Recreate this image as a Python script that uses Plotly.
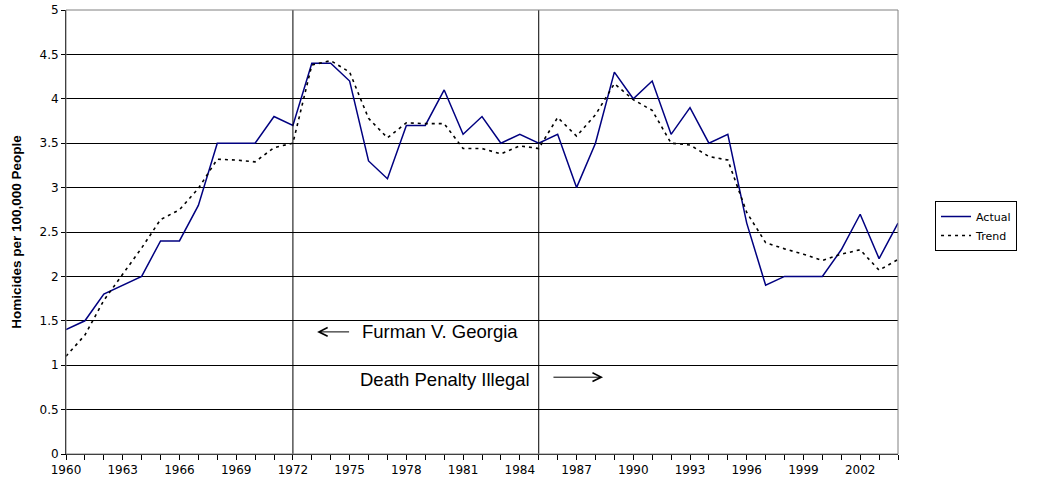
import plotly.graph_objects as go

years = list(range(1960, 2005))
actual = [1.4, 1.5, 1.8, 1.9, 2.0, 2.4, 2.4, 2.8, 3.5, 3.5,
          3.5, 3.8, 3.7, 4.4, 4.4, 4.2, 3.3, 3.1, 3.7, 3.7,
          4.1, 3.6, 3.8, 3.5, 3.6, 3.5, 3.6, 3.0, 3.5, 4.3,
          4.0, 4.2, 3.6, 3.9, 3.5, 3.6, 2.6, 1.9, 2.0, 2.0,
          2.0, 2.3, 2.7, 2.2, 2.6]
trend = [1.10, 1.34, 1.73, 2.02, 2.32, 2.64, 2.75, 2.99, 3.32, 3.31,
         3.29, 3.45, 3.50, 4.38, 4.43, 4.30, 3.78, 3.56, 3.73, 3.72,
         3.72, 3.44, 3.44, 3.38, 3.47, 3.44, 3.79, 3.58, 3.82, 4.17,
         3.99, 3.87, 3.50, 3.48, 3.35, 3.31, 2.72, 2.38, 2.31, 2.25,
         2.18, 2.25, 2.30, 2.07, 2.19]
tick_years = list(range(1960, 2003, 3))
event_years = [1972, 1985]

FONT = "Liberation Sans, Arial, sans-serif"
TICKFONT = "DejaVu Sans, sans-serif"

fig = go.Figure()
fig.add_trace(go.Scatter(x=years, y=actual, mode="lines", name="Actual",
                         line=dict(color="#000080", width=1.5)))
fig.add_trace(go.Scatter(x=years, y=trend, mode="lines", name="Trend",
                         line=dict(color="black", width=1.6, dash="3px,4px")))

for ey in event_years:
    fig.add_shape(type="line", x0=ey, x1=ey, y0=0, y1=5, xref="x", yref="y",
                  line=dict(color="black", width=1), layer="above")

# plot border (gray)
fig.add_shape(type="rect", xref="paper", yref="paper", x0=0, x1=1, y0=0, y1=1,
              line=dict(color="#808080", width=1), layer="above")

fig.add_annotation(x=1973.28, y=1.375, ax=1975.05, ay=1.375, xref="x", yref="y",
                   axref="x", ayref="y", text="", showarrow=True,
                   arrowhead=5, arrowsize=1.7, arrowwidth=1, arrowcolor="black")
fig.add_annotation(x=1975.56, y=1.375, xref="x", yref="y", text="Furman V. Georgia",
                   showarrow=False, xanchor="left", yanchor="middle",
                   font=dict(family=FONT, size=18.5, color="black"))
fig.add_annotation(x=1988.4, y=0.865, ax=1985.7, ay=0.865, xref="x", yref="y",
                   axref="x", ayref="y", text="", showarrow=True,
                   arrowhead=5, arrowsize=1.7, arrowwidth=1, arrowcolor="black")
fig.add_annotation(x=1975.45, y=0.835, xref="x", yref="y", text="Death Penalty Illegal",
                   showarrow=False, xanchor="left", yanchor="middle",
                   font=dict(family=FONT, size=18.5, color="black"))

fig.update_layout(
    width=1039, height=485,
    margin=dict(l=66, r=141, t=10, b=31, autoexpand=False),
    plot_bgcolor="white", paper_bgcolor="white",
    font=dict(family=FONT, size=11, color="black"),
    showlegend=True,
    legend=dict(x=1.0445, y=0.5135, xanchor="left", yanchor="middle",
                bordercolor="black", borderwidth=1, bgcolor="white",
                font=dict(family=TICKFONT, size=11), tracegroupgap=0,
                itemwidth=30, entrywidth=62),
    xaxis=dict(range=[1960, 2004], tickmode="array", tickvals=tick_years,
               ticktext=[str(t) for t in tick_years], showgrid=False,
               ticks="outside", ticklen=5, tickcolor="black", automargin=False,
               showline=True, linecolor="black", linewidth=1, zeroline=False,
               minor=dict(dtick=1, tick0=1960, ticks="outside", ticklen=5,
                          tickcolor="black", showgrid=False),
               tickfont=dict(family=TICKFONT, size=12)),
    yaxis=dict(range=[0, 5], dtick=0.5, showgrid=True, gridcolor="black",
               gridwidth=1, ticks="outside", ticklen=4, tickcolor="black",
               showline=True, linecolor="black", linewidth=1, zeroline=False,
               automargin=False,
               tickfont=dict(family=TICKFONT, size=12),
               title=dict(text="<b>Homicides per 100,000 People</b>",
                          font=dict(family=FONT, size=13.5), standoff=14)),
)

fig.write_html("out.html", config={"displayModeBar": False},
               post_script="document.body.style.margin='0';")
